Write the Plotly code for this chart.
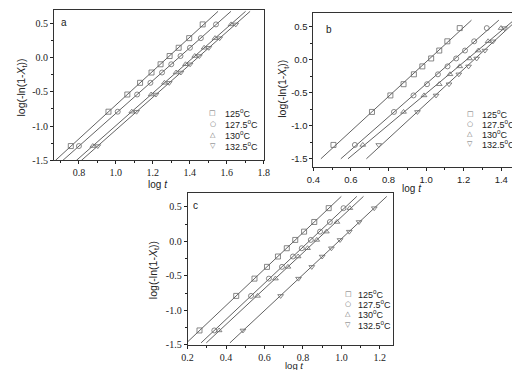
import numpy as np
import plotly.graph_objects as go

# ---------------- data ----------------
y_vals = [-1.29, -0.79, -0.54, -0.37, -0.22, -0.10, 0.02, 0.14, 0.28, 0.48]
temps = ["125", "127.5", "130", "132.5"]

a_125 = [0.756, 0.960, 1.062, 1.131, 1.193, 1.242, 1.291, 1.340, 1.397, 1.470]
a_127 = [0.800, 1.010, 1.115, 1.187, 1.250, 1.300, 1.350, 1.401, 1.460, 1.542]
a_130 = [0.875, 1.086, 1.191, 1.263, 1.326, 1.377, 1.427, 1.478, 1.537, 1.624]
a_132 = [0.902, 1.112, 1.217, 1.289, 1.352, 1.402, 1.452, 1.503, 1.562, 1.649]

b_125 = [0.507, 0.712, 0.810, 0.880, 0.935, 0.980, 1.027, 1.070, 1.113, 1.179]
b_127 = [0.621, 0.829, 0.933, 1.005, 1.063, 1.114, 1.160, 1.207, 1.256, 1.323]
b_130 = [0.663, 0.880, 0.989, 1.070, 1.127, 1.179, 1.231, 1.278, 1.330, 1.399]
b_132 = [0.748, 0.954, 1.053, 1.122, 1.174, 1.226, 1.269, 1.313, 1.356, 1.417]

c_125 = [0.262, 0.453, 0.548, 0.613, 0.670, 0.716, 0.760, 0.806, 0.859, 0.934]
c_127 = [0.339, 0.530, 0.623, 0.691, 0.748, 0.794, 0.841, 0.889, 0.940, 1.011]
c_130 = [0.364, 0.564, 0.657, 0.722, 0.775, 0.824, 0.872, 0.922, 0.977, 1.044]
c_132 = [0.488, 0.684, 0.777, 0.846, 0.900, 0.948, 0.993, 1.041, 1.092, 1.171]

y_tickvals = [-1.5, -1.0, -0.5, 0.0, 0.5]
y_ticktext = ["-1.5", "-1.0", "-0.5", "0.0", "0.5"]
xa_tickvals = [0.8, 1.0, 1.2, 1.4, 1.6, 1.8]
xa_ticktext = ["0.8", "1.0", "1.2", "1.4", "1.6", "1.8"]
xb_tickvals = [0.4, 0.6, 0.8, 1.0, 1.2, 1.4]
xb_ticktext = ["0.4", "0.6", "0.8", "1.0", "1.2", "1.4"]
xc_tickvals = [0.2, 0.4, 0.6, 0.8, 1.0, 1.2]
xc_ticktext = ["0.2", "0.4", "0.6", "0.8", "1.0", "1.2"]

# ---------------- layout helpers ----------------
W, H = 520, 370
def px(x):
    return x / W
def py(y):
    return 1 - y / H

symbols = ["square-open", "circle-open", "triangle-up-open", "triangle-down-open"]
legend_glyphs = ["\u25A1", "\u25CB", "\u25B3", "\u25BD"]
MK = "#6a6a6a"
LN = "#3a3a3a"

panels = [
    dict(series=[a_125, a_127, a_130, a_132], xa="x", ya="y", line_y=(-1.5, 0.67)),
    dict(series=[b_125, b_127, b_130, b_132], xa="x2", ya="y2", line_y=(-1.5, 0.6)),
    dict(series=[c_125, c_127, c_130, c_132], xa="x3", ya="y3", line_y=(-1.47, 0.65)),
]

fig = go.Figure()
for p in panels:
    for i, xs in enumerate(p["series"]):
        coef = np.polyfit(y_vals, xs, 1)
        yl = np.array(p["line_y"])
        xl = np.polyval(coef, yl)
        fig.add_trace(go.Scatter(x=xl, y=yl, mode="lines", xaxis=p["xa"], yaxis=p["ya"],
                                 line=dict(color=LN, width=0.8), showlegend=False,
                                 hoverinfo="skip"))
        fig.add_trace(go.Scatter(x=xs, y=y_vals, mode="markers", xaxis=p["xa"], yaxis=p["ya"],
                                 marker=dict(symbol=symbols[i], size=5, color=MK,
                                             line=dict(color=MK, width=0.8)),
                                 name=temps[i] + "\u00b0C", showlegend=False))

serif = "Liberation Serif"
sans = "Liberation Sans"

def xaxis(domain, rng, tv, tt, anchor, fam, size):
    return dict(domain=domain, range=rng, anchor=anchor, tickmode="array", tickvals=tv, ticktext=tt,
                ticks="outside", ticklen=3, tickwidth=0.8, tickcolor="#222",
                minor=dict(tickmode="linear", tick0=0, dtick=0.1, ticks="outside", ticklen=2,
                           tickwidth=0.8, tickcolor="#222"),
                showline=True, linecolor="#333", linewidth=0.8, mirror=True,
                showgrid=False, zeroline=False, tickfont=dict(family=fam, size=size, color="#222"))

def yaxis(domain, rng, anchor, fam, size):
    return dict(domain=domain, range=rng, anchor=anchor, tickmode="array", tickvals=y_tickvals,
                ticktext=y_ticktext, ticks="outside", ticklen=3, tickwidth=0.8, tickcolor="#222",
                minor=dict(tickmode="linear", tick0=0, dtick=0.25, ticks="outside", ticklen=2,
                           tickwidth=0.8, tickcolor="#222"),
                showline=True, linecolor="#333", linewidth=0.8, mirror=True,
                showgrid=False, zeroline=False, tickfont=dict(family=fam, size=size, color="#222"))

fig.update_layout(
    width=W, height=H, margin=dict(l=0, r=0, t=0, b=0),
    paper_bgcolor="white", plot_bgcolor="white", showlegend=False,
    xaxis=xaxis([px(40), px(255)], [0.665, 1.8], xa_tickvals, xa_ticktext, "y", serif, 10),
    yaxis=yaxis([py(155), py(2)], [-1.5, 0.69], "x", serif, 10),
    xaxis2=xaxis([px(306), px(518)], [0.4, 1.5], xb_tickvals, xb_ticktext, "y2", sans, 9.5),
    yaxis2=yaxis([py(162), py(5)], [-1.63, 0.71], "x2", sans, 9.5),
    xaxis3=xaxis([px(177), px(388)], [0.2, 1.27], xc_tickvals, xc_ticktext, "y3", serif, 10),
    yaxis3=yaxis([py(342.5), py(188)], [-1.5, 0.7], "x3", serif, 10),
)

ann = []
def add_text(x, y, text, size=10, angle=0, xanchor="center", color="#222", fam=sans):
    ann.append(dict(x=px(x), y=py(y), xref="paper", yref="paper", text=text, showarrow=False,
                    textangle=angle, xanchor=xanchor, yanchor="middle",
                    font=dict(family=fam, size=size, color=color)))

ytitle = "log(-ln(1-<i>X</i><sub>t</sub>))"
xtitle = "log <i>t</i>"
# axis titles
add_text(7, 81, ytitle, size=10.5, angle=-90)
add_text(275, 82, ytitle, size=10.5, angle=-90)
add_text(142, 266, ytitle, size=10.5, angle=-90)
add_text(147, 179, xtitle, size=10)
add_text(407, 183, xtitle, size=10)
add_text(286, 363.5, xtitle, size=9.5)
# panel labels
add_text(50, 15, "a", size=10)
add_text(322, 22, "b", size=10)
add_text(185, 201, "c", size=10)

# legends
legend_pos = [
    (203, 213, [107, 118, 129, 140]),
    (467, 477, [108, 118, 128, 138]),
    (342, 350, [290.5, 301, 311.5, 322]),
]
for sx, tx, rows in legend_pos:
    for i, ry in enumerate(rows):
        add_text(sx, ry, legend_glyphs[i], size=7, color=MK, fam="DejaVu Sans")
        add_text(tx, ry, temps[i] + "<sup>o</sup>C", size=9, xanchor="left")

fig.update_layout(annotations=ann)
fig.write_html("out.html")
